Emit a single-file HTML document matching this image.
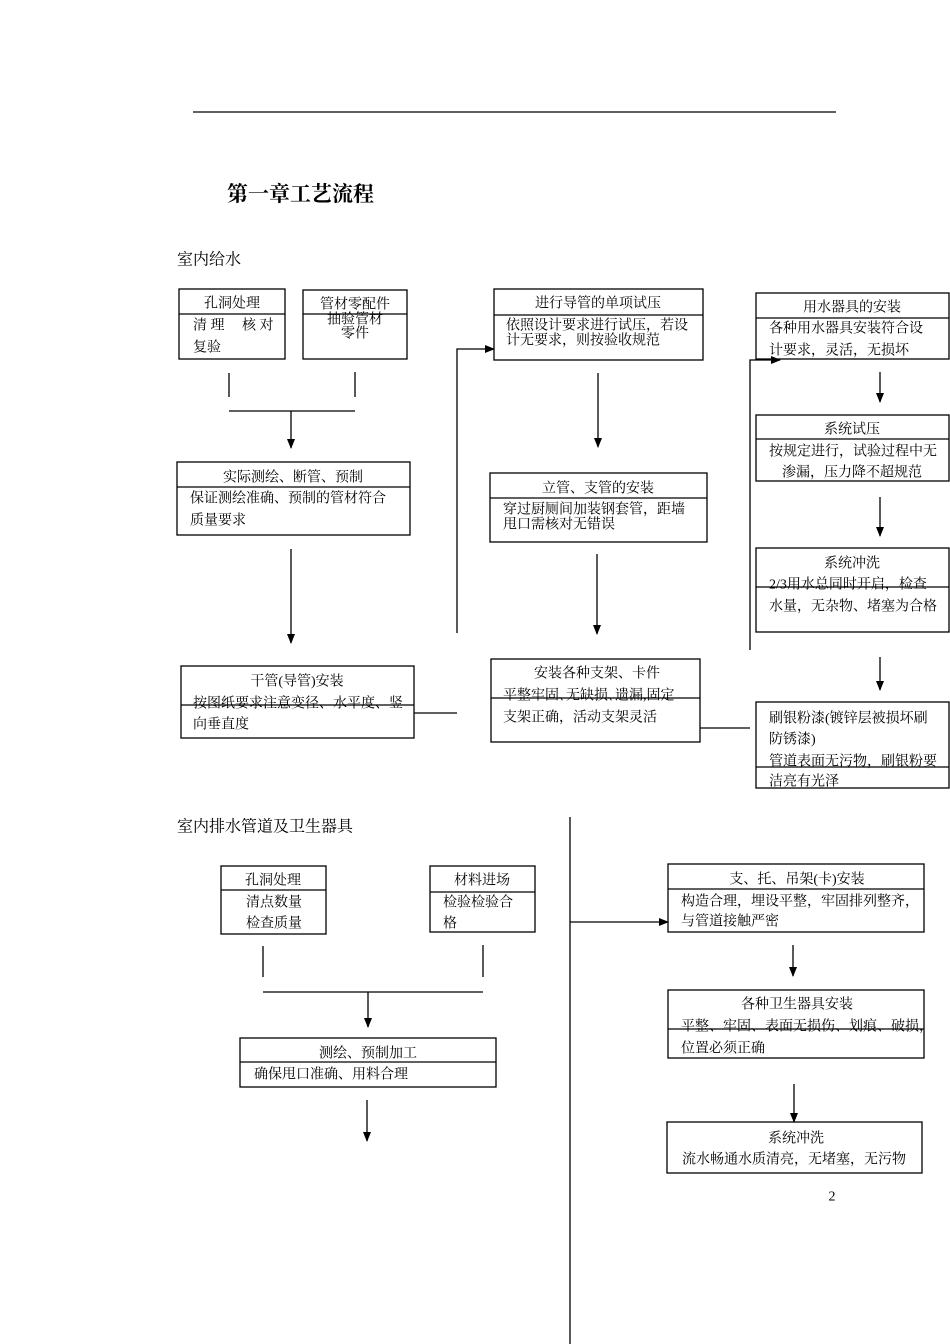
<!DOCTYPE html>
<html><head><meta charset="utf-8"><style>
html,body{margin:0;padding:0;background:#fff;}
svg{display:block}
text{font-family:"Liberation Serif","Noto Serif CJK SC","Noto Sans CJK SC",serif;fill:#000;dominant-baseline:central;}
</style></head><body>
<svg width="950" height="1344" viewBox="0 0 950 1344" xmlns="http://www.w3.org/2000/svg">
<defs><marker id="a" markerWidth="10" markerHeight="10" refX="9" refY="5" orient="auto" markerUnits="userSpaceOnUse"><path d="M0,1 L10,5 L0,9 Z" fill="#000"/></marker></defs>
<g stroke="#000" stroke-width="1.3" fill="none">
<line x1="193" y1="112" x2="836" y2="112"/>
<rect x="179" y="289" width="106" height="70"/><line x1="179" y1="314" x2="285" y2="314"/>
<rect x="303" y="290" width="104" height="69"/><line x1="303" y1="314" x2="407" y2="314"/>
<line x1="229" y1="373" x2="229" y2="397"/><line x1="355" y1="372" x2="355" y2="397"/>
<line x1="229" y1="411" x2="355" y2="411"/>
<line x1="291" y1="411" x2="291" y2="448" marker-end="url(#a)"/>
<rect x="177" y="462" width="233" height="73"/><line x1="177" y1="487" x2="410" y2="487"/>
<line x1="291" y1="549" x2="291" y2="643" marker-end="url(#a)"/>
<rect x="181" y="666" width="233" height="72"/><line x1="181" y1="705" x2="414" y2="705"/>
<line x1="414" y1="713" x2="457" y2="713"/>
<polyline points="457,633 457,349 494,349" marker-end="url(#a)"/>
<rect x="494" y="289" width="209" height="71"/><line x1="494" y1="315" x2="703" y2="315"/>
<line x1="598" y1="373" x2="598" y2="447" marker-end="url(#a)"/>
<rect x="490" y="473" width="217" height="69"/><line x1="490" y1="498" x2="707" y2="498"/>
<line x1="597" y1="554" x2="597" y2="634" marker-end="url(#a)"/>
<rect x="491" y="659" width="209" height="83"/><line x1="491" y1="698" x2="700" y2="698"/>
<line x1="700" y1="728" x2="750" y2="728"/>
<rect x="756" y="293" width="193" height="66"/><line x1="756" y1="318" x2="949" y2="318"/>
<polyline points="750,650 750,360 780,360" marker-end="url(#a)"/>
<line x1="880" y1="372" x2="880" y2="402" marker-end="url(#a)"/>
<rect x="756" y="415" width="193" height="66"/><line x1="756" y1="439" x2="949" y2="439"/>
<line x1="880" y1="497" x2="880" y2="536" marker-end="url(#a)"/>
<rect x="756" y="548" width="193" height="84"/><line x1="756" y1="587" x2="949" y2="587"/>
<line x1="880" y1="657" x2="880" y2="690" marker-end="url(#a)"/>
<rect x="756" y="702" width="193" height="86"/><line x1="756" y1="767" x2="949" y2="767"/>
<line x1="570" y1="817" x2="570" y2="1344"/>
<rect x="221" y="866" width="105" height="68"/><line x1="221" y1="890" x2="326" y2="890"/>
<rect x="430" y="866" width="105" height="66"/><line x1="430" y1="892" x2="535" y2="892"/>
<line x1="263" y1="946" x2="263" y2="977"/><line x1="483" y1="945" x2="483" y2="977"/>
<line x1="263" y1="992" x2="483" y2="992"/>
<line x1="368" y1="992" x2="368" y2="1027" marker-end="url(#a)"/>
<rect x="240" y="1038" width="256" height="49"/><line x1="240" y1="1062" x2="496" y2="1062"/>
<line x1="367" y1="1100" x2="367" y2="1141" marker-end="url(#a)"/>
<rect x="668" y="864" width="256" height="68"/><line x1="668" y1="889" x2="924" y2="889"/>
<line x1="570" y1="922" x2="668" y2="922" marker-end="url(#a)"/>
<line x1="793" y1="945" x2="793" y2="976" marker-end="url(#a)"/>
<rect x="668" y="990" width="256" height="68"/><line x1="668" y1="1029" x2="924" y2="1029"/>
<line x1="794" y1="1084" x2="794" y2="1122" marker-end="url(#a)"/>
<rect x="667" y="1122" width="255" height="51"/>
</g>
<g transform="translate(0,2)">
<text x="227" y="192" font-size="21" font-weight="bold">第一章工艺流程</text>
<text x="177" y="258" font-size="16">室内给水</text>
<g font-size="14">
<text x="232" y="302" text-anchor="middle">孔洞处理</text>
<text x="193" y="324">清 理　 核 对</text>
<text x="193" y="346">复验</text>
<text x="355" y="303" text-anchor="middle">管材零配件</text>
<text x="355" y="318" text-anchor="middle">抽验管材</text>
<text x="355" y="332" text-anchor="middle">零件</text>
<text x="293" y="476" text-anchor="middle">实际测绘、断管、预制</text>
<text x="190" y="497">保证测绘准确、预制的管材符合</text>
<text x="190" y="519">质量要求</text>
<text x="297" y="680" text-anchor="middle">干管(导管)安装</text>
<text x="193" y="702">按图纸要求注意变径、水平度、竖</text>
<text x="193" y="723">向垂直度</text>
<text x="598" y="302" text-anchor="middle">进行导管的单项试压</text>
<text x="506" y="324">依照设计要求进行试压，若设</text>
<text x="506" y="339">计无要求，则按验收规范</text>
<text x="598" y="487" text-anchor="middle">立管、支管的安装</text>
<text x="503" y="508">穿过厨厕间加装钢套管，距墙</text>
<text x="503" y="523">甩口需核对无错误</text>
<text x="597" y="672" text-anchor="middle">安装各种支架、卡件</text>
<text x="503" y="694">平整牢固､无缺损､遗漏,固定</text>
<text x="503" y="716">支架正确，活动支架灵活</text>
<text x="852" y="306" text-anchor="middle">用水器具的安装</text>
<text x="769" y="327">各种用水器具安装符合设</text>
<text x="769" y="349">计要求，灵活，无损坏</text>
<text x="852" y="428" text-anchor="middle">系统试压</text>
<text x="769" y="450">按规定进行，试验过程中无</text>
<text x="852" y="471" text-anchor="middle">渗漏，压力降不超规范</text>
<text x="852" y="562" text-anchor="middle">系统冲洗</text>
<text x="769" y="583">2/3用水总同时开启，检查</text>
<text x="769" y="605">水量，无杂物、堵塞为合格</text>
<text x="769" y="717">刷银粉漆(镀锌层被损坏刷</text>
<text x="769" y="738">防锈漆)</text>
<text x="769" y="760">管道表面无污物，刷银粉要</text>
<text x="769" y="780">洁亮有光泽</text>
</g>
<text x="177" y="825" font-size="16">室内排水管道及卫生器具</text>
<g font-size="14">
<text x="273" y="879" text-anchor="middle">孔洞处理</text>
<text x="246" y="901">清点数量</text>
<text x="246" y="922">检查质量</text>
<text x="482" y="879" text-anchor="middle">材料进场</text>
<text x="443" y="901">检验检验合</text>
<text x="443" y="922">格</text>
<text x="368" y="1052" text-anchor="middle">测绘、预制加工</text>
<text x="254" y="1073">确保甩口准确、用料合理</text>
<text x="797" y="878" text-anchor="middle">支、托、吊架(卡)安装</text>
<text x="681" y="900">构造合理，埋设平整，牢固排列整齐，</text>
<text x="681" y="920">与管道接触严密</text>
<text x="797" y="1003" text-anchor="middle">各种卫生器具安装</text>
<text x="681" y="1025">平整、牢固、表面无损伤、划痕、破损，</text>
<text x="681" y="1047">位置必须正确</text>
<text x="796" y="1137" text-anchor="middle">系统冲洗</text>
<text x="794" y="1158" text-anchor="middle">流水畅通水质清亮，无堵塞，无污物</text>
<text x="832" y="1195" text-anchor="middle">2</text>
</g>
</g>
</svg>
</body></html>
